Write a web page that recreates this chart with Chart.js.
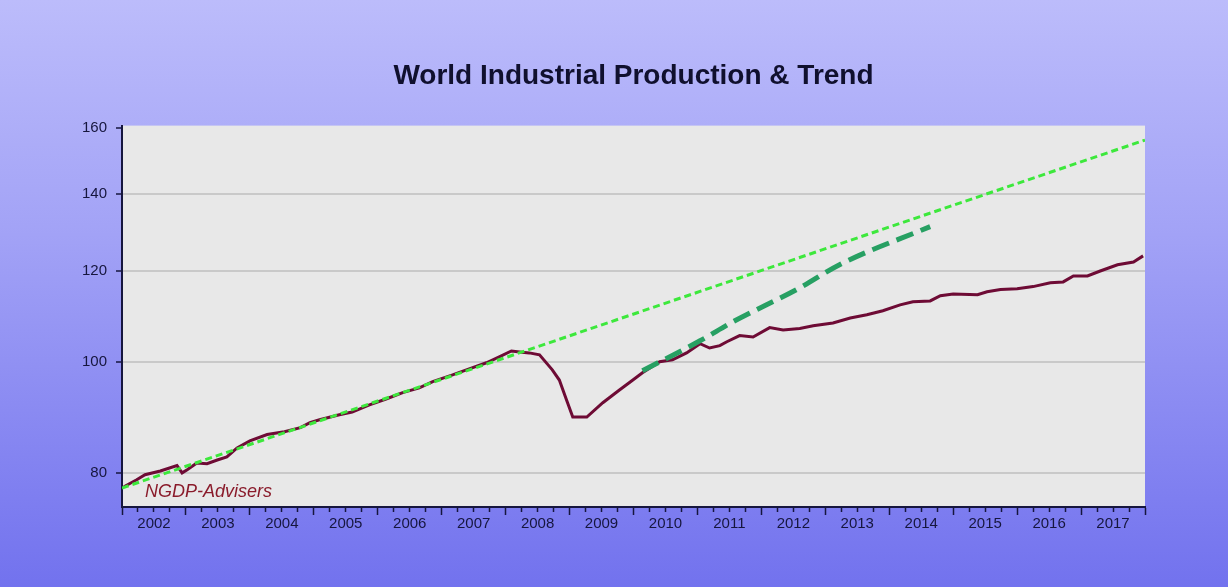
<!DOCTYPE html>
<html>
<head>
<meta charset="utf-8">
<title>World Industrial Production &amp; Trend</title>
<script src="https://cdn.jsdelivr.net/npm/chart.js@4.4.0/dist/chart.umd.min.js"></script>
<style>
  html, body { margin: 0; padding: 0; }
  #wrap {
    width: 1228px;
    height: 587px;
    background: linear-gradient(to bottom, #bcbcfb 0%, #a2a2f6 40%, #7272ee 100%);
  }
</style>
</head>
<body>
<div id="wrap"><canvas id="chart" width="1228" height="587"></canvas></div>
<script>
// World industrial production (index, log scale)
const ipYears = [2002.03, 2002.23, 2002.36, 2002.60, 2002.86, 2002.94, 2003.02, 2003.17, 2003.33, 2003.49,
  2003.64, 2003.80, 2004.00, 2004.27, 2004.54, 2004.79, 2004.94, 2005.09, 2005.26, 2005.40,
  2005.60, 2005.87, 2006.13, 2006.39, 2006.65, 2006.86, 2007.17, 2007.43, 2007.70, 2007.90,
  2008.09, 2008.22, 2008.37, 2008.53, 2008.73, 2008.84, 2008.95, 2009.05, 2009.27, 2009.52,
  2009.78, 2009.99, 2010.14, 2010.41, 2010.61, 2010.83, 2011.04, 2011.19, 2011.35, 2011.46,
  2011.66, 2011.87, 2012.13, 2012.34, 2012.60, 2012.81, 2013.12, 2013.39, 2013.65, 2013.90,
  2014.17, 2014.37, 2014.64, 2014.80, 2015.00, 2015.38, 2015.53, 2015.74, 2016.00, 2016.25,
  2016.52, 2016.72, 2016.88, 2017.10, 2017.30, 2017.57, 2017.82, 2017.97];
const ipValues = [77.8, 78.9, 79.7, 80.3, 81.2, 80.0, 80.5, 81.6, 81.5, 82.1,
  82.6, 84.1, 85.3, 86.4, 86.9, 87.6, 88.5, 89.0, 89.5, 89.9,
  90.4, 91.7, 92.8, 94.0, 94.9, 96.1, 97.4, 98.6, 99.8, 101.0,
  102.2, 102.0, 101.8, 101.4, 98.4, 96.4, 92.7, 89.5, 89.5, 92.1,
  94.5, 96.4, 97.8, 100.0, 100.4, 101.8, 103.7, 102.8, 103.3, 104.1,
  105.4, 105.1, 107.1, 106.6, 106.9, 107.5, 108.1, 109.2, 109.9, 110.8,
  112.1, 112.8, 113.0, 114.2, 114.6, 114.4, 115.1, 115.6, 115.8, 116.3,
  117.2, 117.4, 118.8, 118.8, 120.0, 121.5, 122.2, 123.7];

// Pre-2008 trend (straight on the log scale)
const trendYears = [2002.0, 2018.0];
const trendValues = [77.6, 156.1];

// Steeper catch-up path from 2010
const pathYears = [2010.14, 2011.04, 2011.56, 2012.60, 2013.23, 2014.64];
const pathValues = [98.2, 104.3, 108.4, 116.0, 121.6, 131.2];

// Axes
const yTicks = [80, 100, 120, 140, 160];
const yearLabels = [2002, 2003, 2004, 2005, 2006, 2007, 2008, 2009, 2010, 2011, 2012, 2013, 2014, 2015, 2016, 2017];

const navy = '#16163e';
const axisFont = { family: '"Liberation Sans", Arial, sans-serif', size: 15 };

function toPoints(xs, ys) {
    return xs.map((x, i) => ({ x: x, y: ys[i] }));
}

// quarter tick marks across the whole axis, labels sit mid-year
const quarterTicks = [];
yearLabels.forEach(y => {
    for (let q = 0; q < 4; q++) quarterTicks.push(y + q / 4);
});
quarterTicks.push(yearLabels[yearLabels.length - 1] + 1);

// Plot background and the signature text
const plotDecor = {
    id: 'plotDecor',
    beforeDraw(chart) {
        const { ctx, chartArea } = chart;
        ctx.save();
        ctx.fillStyle = '#e8e8e8';
        ctx.fillRect(chartArea.left, chartArea.top, chartArea.right - chartArea.left, chartArea.bottom - chartArea.top);
        ctx.restore();
    },
    afterDatasetsDraw(chart) {
        const { ctx, chartArea } = chart;
        ctx.save();
        ctx.font = 'italic 18px "Liberation Sans", Arial, sans-serif';
        ctx.fillStyle = '#8a1b2b';
        ctx.textBaseline = 'middle';
        ctx.fillText('NGDP-Advisers', chartArea.left + 23, chartArea.bottom - 15);
        ctx.restore();
    }
};

new Chart(document.getElementById('chart'), {
    type: 'line',
    data: {
        datasets: [
            {
                label: 'Trend',
                data: toPoints(trendYears, trendValues),
                borderColor: '#3de83c',
                borderWidth: 3,
                borderDash: [7, 4],
                pointRadius: 0,
                order: 2
            },
            {
                label: 'Path',
                data: toPoints(pathYears, pathValues),
                borderColor: '#27a063',
                borderWidth: 5,
                borderDash: [18, 8],
                pointRadius: 0,
                cubicInterpolationMode: 'monotone',
                order: 1
            },
            {
                label: 'World Industrial Production',
                data: toPoints(ipYears, ipValues),
                borderColor: '#6e0b35',
                borderWidth: 3,
                pointRadius: 0,
                order: 3
            }
        ]
    },
    options: {
        responsive: false,
        animation: false,
        devicePixelRatio: 1,
        layout: { padding: { left: 0, right: 83, top: 0, bottom: 0 } },
        plugins: {
            legend: { display: false },
            tooltip: { enabled: false },
            title: {
                display: true,
                fullSize: false,
                text: 'World Industrial Production & Trend',
                color: '#10102e',
                font: { family: '"Liberation Sans", Arial, sans-serif', size: 28, weight: 'bold' },
                padding: { top: 59, bottom: 33 }
            }
        },
        scales: {
            x: {
                type: 'linear',
                min: 2002,
                max: 2018,
                afterBuildTicks: scale => {
                    scale.ticks = quarterTicks.map(v => ({ value: v }));
                },
                afterFit: scale => { scale.height = 80; },
                ticks: {
                    autoSkip: false,
                    maxRotation: 0,
                    padding: 0,
                    color: navy,
                    font: axisFont,
                    callback: v => (Math.round(v * 4) % 4 === 2 ? String(Math.floor(v)) : '')
                },
                grid: {
                    drawOnChartArea: false,
                    drawTicks: true,
                    tickLength: 8,
                    tickWidth: 1.5,
                    tickColor: navy,
                    tickBorderDash: ctx => (ctx.tick && Math.round(ctx.tick.value * 4) % 4 === 0 ? [] : [4, 20])
                },
                border: { display: true, color: navy, width: 2 }
            },
            y: {
                type: 'logarithmic',
                min: 74.7,
                max: 160.7,
                afterBuildTicks: scale => {
                    scale.ticks = yTicks.map(v => ({ value: v }));
                },
                afterFit: scale => { scale.width = 122; },
                ticks: {
                    padding: 9,
                    color: navy,
                    font: axisFont,
                    callback: v => String(v)
                },
                grid: {
                    color: ctx => (ctx.tick && ctx.tick.value === 160 ? 'rgba(0,0,0,0)' : '#c9c9c9'),
                    lineWidth: 2,
                    tickLength: 6,
                    tickColor: navy,
                    tickWidth: 1.5
                },
                border: { display: true, color: navy, width: 2 }
            }
        }
    },
    plugins: [plotDecor]
});
</script>
</body>
</html>
